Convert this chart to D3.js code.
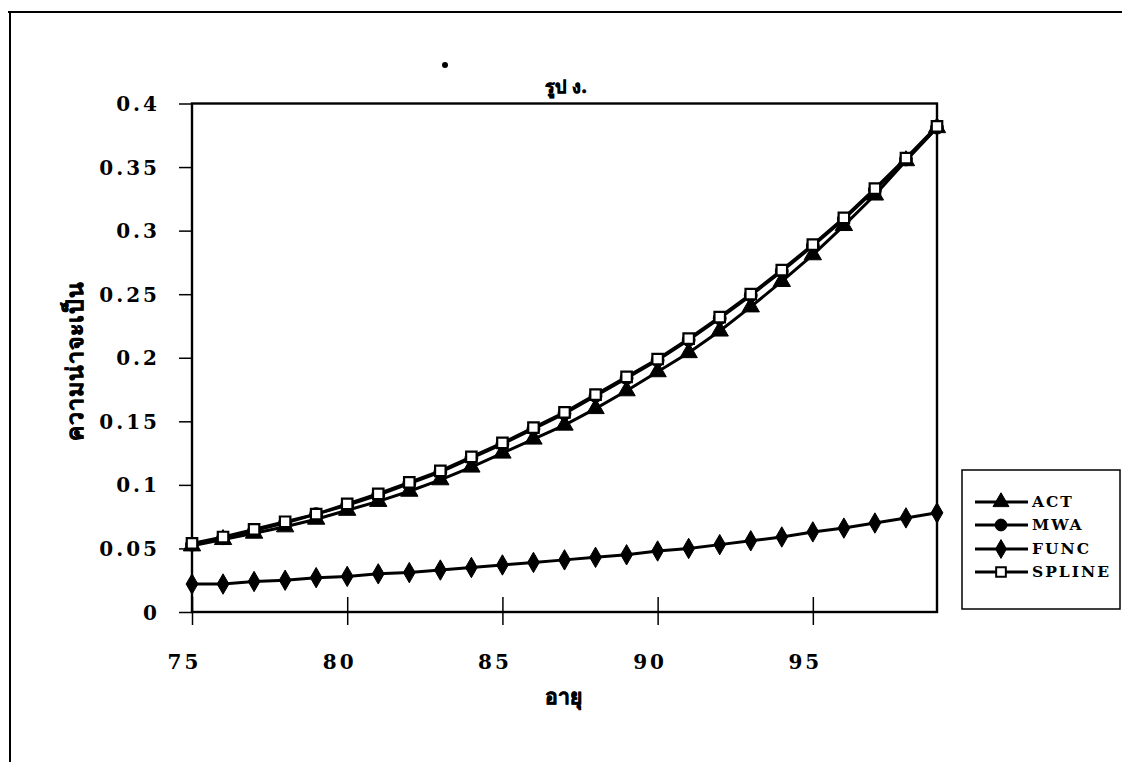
<!DOCTYPE html>
<html>
<head>
<meta charset="utf-8">
<script src="https://cdn.jsdelivr.net/npm/d3@7"></script>
<style>
  html, body { margin: 0; padding: 0; background: #fff; }
  svg { display: block; }
  text { font-family: "DejaVu Serif", "Liberation Serif", serif; fill: #000; }
</style>
</head>
<body>
<svg id="chart" width="1129" height="775"></svg>
<script>
// ---- data ----
const ages = [75,76,77,78,79,80,81,82,83,84,85,86,87,88,89,90,91,92,93,94,95,96,97,98,99];
const actValues    = [0.052,0.057,0.062,0.067,0.073,0.080,0.087,0.095,0.104,0.114,0.125,0.136,0.147,0.160,0.174,0.189,0.204,0.221,0.240,0.260,0.281,0.304,0.328,0.355,0.381];
const mwaValues    = [0.053,0.058,0.064,0.070,0.077,0.084,0.092,0.101,0.110,0.121,0.132,0.144,0.156,0.170,0.184,0.198,0.214,0.231,0.249,0.268,0.288,0.309,0.332,0.356,0.381];
const funcValues   = [0.022,0.022,0.024,0.025,0.027,0.028,0.030,0.031,0.033,0.035,0.037,0.039,0.041,0.043,0.045,0.048,0.050,0.053,0.056,0.059,0.063,0.066,0.070,0.074,0.078];
const splineValues = [0.054,0.059,0.065,0.071,0.077,0.085,0.093,0.102,0.111,0.122,0.133,0.145,0.157,0.171,0.185,0.199,0.215,0.232,0.250,0.269,0.289,0.310,0.333,0.357,0.382];
const seriesNames = ["ACT","MWA","FUNC","SPLINE"];
const xTickValues = [75,80,85,90,95];
const yTickValues = [0,0.05,0.1,0.15,0.2,0.25,0.3,0.35,0.4];
const titleText = "รูป ง.";
const xTitle = "อายุ";
const yTitle = "ความน่าจะเป็น";

// ---- layout ----
const svg = d3.select("#chart");
const L = 192, R = 937, T = 103.5, B = 612;
const x = d3.scaleLinear().domain([75, 99]).range([L, R]);
const y = d3.scaleLinear().domain([0, 0.4]).range([B, T]);

// outer frame (top and left edges of the page border)
svg.append("line").attr("x1", 8).attr("x2", 1122).attr("y1", 12).attr("y2", 12)
  .attr("stroke", "#000").attr("stroke-width", 2);
svg.append("line").attr("x1", 10).attr("x2", 10).attr("y1", 12).attr("y2", 762)
  .attr("stroke", "#000").attr("stroke-width", 2);

// title and speck
svg.append("circle").attr("cx", 445).attr("cy", 65).attr("r", 3).attr("fill", "#000");
svg.append("text").attr("x", 566).attr("y", 93).attr("text-anchor", "middle")
  .attr("font-size", 18).attr("font-weight", "bold").attr("stroke", "#000").attr("stroke-width", 0.6)
  .text(titleText);

// y axis
const yAxis = d3.axisLeft(y).tickValues(yTickValues).tickSize(13).tickPadding(19)
  .tickFormat(d => d === 0 ? "0" : d3.format("")(d));
const gy = svg.append("g").attr("transform", `translate(${L},0)`).call(yAxis);
gy.select(".domain").remove();
gy.selectAll(".tick line").attr("stroke", "#000").attr("stroke-width", 1.5);
gy.selectAll(".tick text").attr("font-size", 20).attr("font-weight", "bold")
  .attr("font-family", "DejaVu Serif, serif").attr("letter-spacing", 3).attr("dy", "0.35em");

// x axis (ticks crossing)
const xAxis = d3.axisBottom(x).tickValues(xTickValues).tickSize(13).tickPadding(30)
  .tickFormat(d3.format("d"));
const gx = svg.append("g").attr("transform", `translate(0,${B})`).call(xAxis);
gx.select(".domain").remove();
gx.selectAll(".tick line").attr("stroke", "#000").attr("stroke-width", 1.5).attr("y1", -15);
gx.selectAll(".tick text").attr("font-size", 20).attr("font-weight", "bold")
  .attr("font-family", "DejaVu Serif, serif").attr("letter-spacing", 3).attr("dx", -8);

// plot frame
svg.append("rect").attr("x", L).attr("y", T).attr("width", R - L).attr("height", B - T)
  .attr("fill", "none").attr("stroke", "#000").attr("stroke-width", 2.4);

// axis titles
svg.append("text").attr("x", 563).attr("y", 704).attr("text-anchor", "middle")
  .attr("font-size", 21).attr("font-weight", "bold").attr("stroke", "#000").attr("stroke-width", 0.6)
  .text(xTitle);
svg.append("text").attr("transform", "translate(83,361) rotate(-90)")
  .attr("text-anchor", "middle").attr("font-size", 23).attr("font-weight", "bold")
  .attr("letter-spacing", 1).attr("stroke", "#000").attr("stroke-width", 0.6).text(yTitle);

// series
const series = [
  {name: seriesNames[0], values: actValues, sym: d3.symbolTriangle, size: 130, fill: "#000"},
  {name: seriesNames[1], values: mwaValues, sym: d3.symbolCircle, size: 130, fill: "#000"},
  {name: seriesNames[2], values: funcValues, sym: d3.symbolDiamond, size: 120, fill: "#000"},
  {name: seriesNames[3], values: splineValues, sym: d3.symbolSquare, size: 110, fill: "#fff"}
];
const line = d3.line().x(d => x(d[0])).y(d => y(d[1]));
series.forEach(s => {
  const pts = ages.map((a, i) => [a, s.values[i]]);
  svg.append("path").datum(pts).attr("d", line).attr("fill", "none")
    .attr("stroke", "#000").attr("stroke-width", 3);
  svg.append("g").selectAll("path").data(pts).join("path")
    .attr("transform", d => `translate(${x(d[0])},${y(d[1])})`)
    .attr("d", d3.symbol().type(s.sym).size(s.size))
    .attr("fill", s.fill).attr("stroke", "#000").attr("stroke-width", s.fill === "#fff" ? 2.2 : 1);
});

// legend
const lg = svg.append("g");
lg.append("rect").attr("x", 962).attr("y", 470).attr("width", 158).attr("height", 139)
  .attr("fill", "#fff").attr("stroke", "#000").attr("stroke-width", 1.5);
const legY = [502, 525, 549, 572];
series.forEach((s, i) => {
  const yy = legY[i];
  lg.append("line").attr("x1", 975).attr("x2", 1028).attr("y1", yy).attr("y2", yy)
    .attr("stroke", "#000").attr("stroke-width", 2.8);
  lg.append("path").attr("transform", `translate(1001,${yy})`)
    .attr("d", d3.symbol().type(s.sym).size(s.size * 0.85))
    .attr("fill", s.fill).attr("stroke", "#000").attr("stroke-width", s.fill === "#fff" ? 2 : 1);
  lg.append("text").attr("x", 1032).attr("y", yy).attr("dy", "0.35em")
    .attr("font-size", 15.5).attr("font-weight", "bold").attr("letter-spacing", 2).text(s.name);
});
</script>
</body>
</html>
